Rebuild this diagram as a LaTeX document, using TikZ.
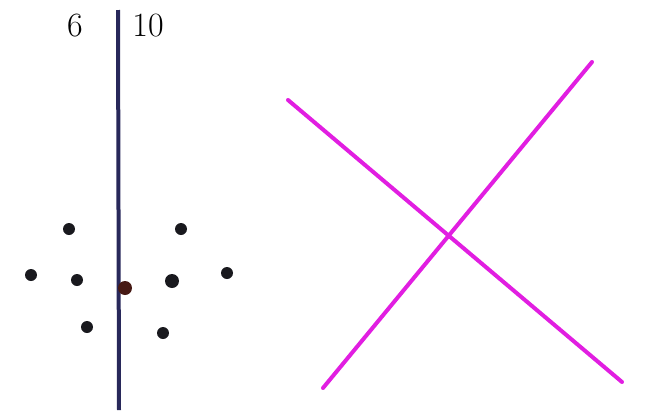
\documentclass[tikz,border=0pt]{standalone}
\usepackage{xcolor}
\usepackage{tikz}
\definecolor{axisblue}{RGB}{40, 40, 90}
\definecolor{crossmagenta}{RGB}{225, 30, 225}
\definecolor{dotdark}{RGB}{25, 25, 30}
\definecolor{dotbrown}{RGB}{70, 25, 20}

\begin{document}
\begin{tikzpicture}[
    x=1pt, y=-1pt,
    dot/.style={
      circle,
      inner sep=0pt,
      minimum size=12pt,
      fill=dotdark
    },
    num/.style={
      font=\fontsize{34}{36}\selectfont,
      text=black
    },
    axis/.style={line width=4pt, color=axisblue},
    cross/.style={line width=4pt, color=crossmagenta, line cap=round}
  ]
    \useasboundingbox (0,0) rectangle (649,413);

    % labels either side of the axis
    \node[num] (six) at (75,26) {6};
    \node[num] (ten) at (148,26) {10};

    % vertical axis
    \coordinate (axistop) at (118,10);
    \coordinate (axisbot) at (119,410);
    \draw[axis] (axistop) -- (axisbot);

    % dots
    \node[dot] (ul) at (69,229) {};
    \node[dot] (ur) at (181,229) {};
    \node[dot] (fl) at (31,275) {};
    \node[dot] (ml) at (77,280) {};
    \node[dot, fill=dotbrown, minimum size=14pt] (mc) at (125,288) {};
    \node[dot, minimum size=14pt] (mr) at (172,281) {};
    \node[dot] (fr) at (227,273) {};
    \node[dot] (ll) at (87,327) {};
    \node[dot] (lr) at (163,333) {};

    % the cross
    \coordinate (crossa) at (288,100);
    \coordinate (crossb) at (622,382);
    \coordinate (crossc) at (323,388);
    \coordinate (crossd) at (592,62);
    \draw[cross] (crossa) -- (crossb);
    \draw[cross] (crossc) -- (crossd);
  \end{tikzpicture}
\end{document}
